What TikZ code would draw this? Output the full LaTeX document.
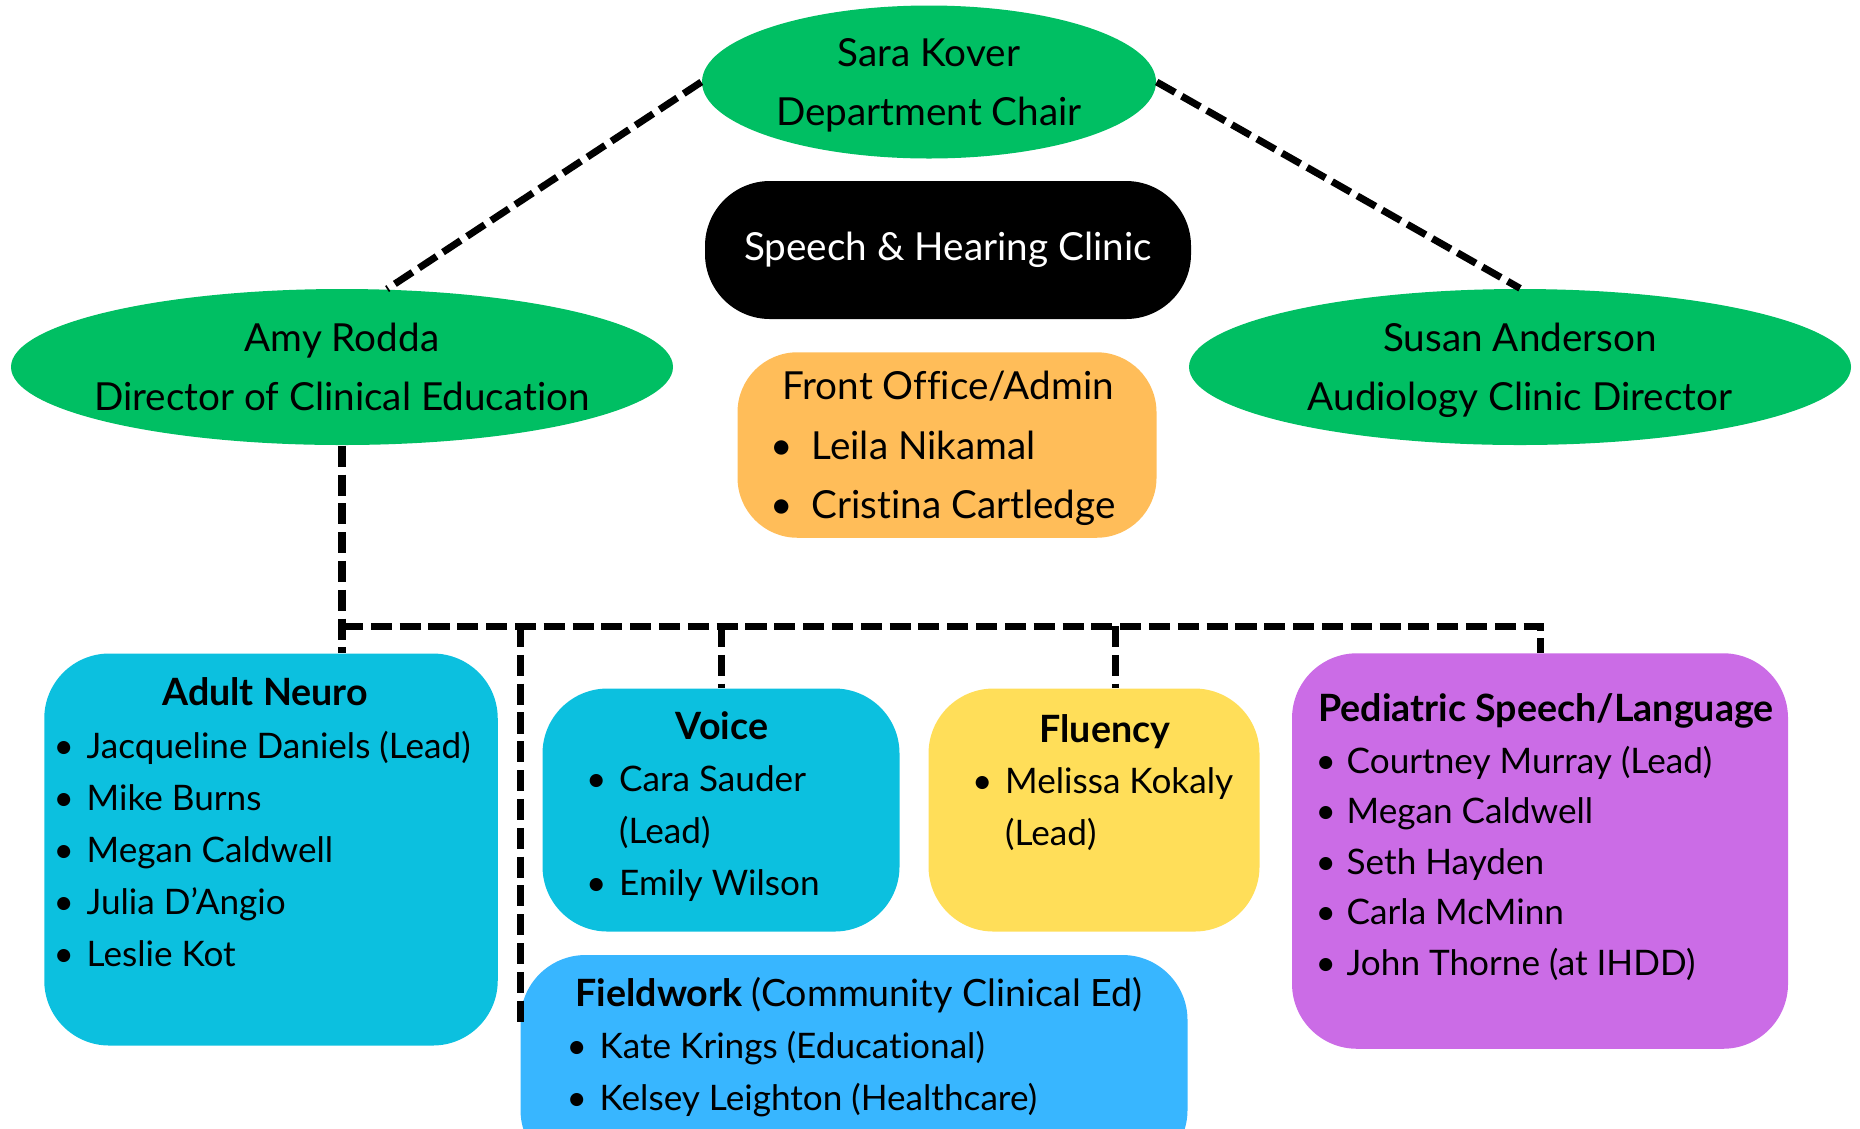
\documentclass[tikz,border=0pt]{standalone}
\usepackage{fontspec}
\setmainfont{Lato}[Ligatures=NoCommon]
\usetikzlibrary{shapes.geometric}
\definecolor{chairgreen}{HTML}{00BF63}
\definecolor{officeorange}{HTML}{FFBD59}
\definecolor{neurocyan}{HTML}{0CC0DF}
\definecolor{fluencyyellow}{HTML}{FFDE59}
\definecolor{pedpurple}{HTML}{CB6CE6}
\definecolor{fieldblue}{HTML}{38B6FF}
\newcommand{\bigtext}{\fontsize{11}{16.8}\selectfont}
\newcommand{\listtext}{\fontsize{10}{14.8}\selectfont}
\newcommand{\headtext}{\fontsize{10.7}{14.8}\selectfont\bfseries}
\newcommand{\members}[2]{\begin{tabular}[t]{@{}p{#1}@{}l@{}}#2\end{tabular}}
\newcommand{\who}{\textbullet &}
\tikzset{
	leader/.style = { ellipse, fill=chairgreen, inner sep=0pt },
	title/.style = { align=center, inner sep=0pt, font=\bigtext, yshift=-0.025cm },
	panel/.style = { rounded corners=0.65cm, inner sep=0pt },
	heading/.style = { anchor=base, inner sep=0pt, font=\headtext },
	roster/.style = { anchor=base west, inner sep=0pt, font=\listtext },
	link/.style = { line width=2pt, dash pattern=on 6pt off 2.2pt }
}

\begin{document}
\begin{tikzpicture}
	\useasboundingbox (0,0) rectangle (18.6,-11.28);
	\clip (0,0) rectangle (18.6,-11.28);
	% leaders
	\node [ leader, minimum width=4.54cm, minimum height=1.53cm ] (1) at (9.29,-0.82) {};
	\node [ title ] (1a) at (1) { Sara Kover\strut\\Department Chair\strut };
	\node [ leader, minimum width=6.62cm, minimum height=1.56cm ] (4) at (3.42,-3.67) {};
	\node [ title ] (4a) at (4) { Amy Rodda\strut\\Director of Clinical Education\strut };
	\node [ leader, minimum width=6.62cm, minimum height=1.56cm ] (5) at (15.20,-3.67) {};
	\node [ title ] (5a) at (5) { Susan Anderson\strut\\Audiology Clinic Director\strut };
	% clinic and office
	\node [ panel, fill=black, text=white, font=\bigtext,
		minimum width=4.86cm, minimum height=1.38cm ] (2) at (9.48,-2.50)
		{ Speech \& Hearing Clinic };
	\node [ panel, rounded corners=0.6cm, fill=officeorange,
		minimum width=4.19cm, minimum height=1.855cm ] (3) at (9.47,-4.45) {};
	\node [ anchor=base, inner sep=0pt, font=\bigtext ] (3a) at (9.48,-3.99)
		{ Front Office/Admin };
	\node [ roster, font=\bigtext ] (3b) at (7.70,-4.59)
		{ \members{0.41cm}{ \who Leila Nikamal \\ \who Cristina Cartledge } };
	% teams
	\node [ panel, fill=neurocyan, minimum width=4.535cm, minimum height=3.92cm ] (6) at (2.71,-8.495) {};
	\node [ panel, fill=neurocyan, minimum width=3.57cm, minimum height=2.43cm ] (7) at (7.21,-8.10) {};
	\node [ panel, fill=fluencyyellow, minimum width=3.31cm, minimum height=2.43cm ] (8) at (10.94,-8.10) {};
	\node [ panel, fill=pedpurple, minimum width=4.96cm, minimum height=3.955cm ] (9) at (15.40,-8.51) {};
	\node [ panel, fill=fieldblue, minimum width=6.67cm, minimum height=2.2cm ] (10) at (8.54,-10.65) {};
	\node [ heading ] (6a) at (2.65,-7.05) { Adult Neuro };
	\node [ roster ] (6b) at (0.53,-7.58)
		{ \members{0.33cm}{ \who Jacqueline Daniels (Lead) \\ \who Mike Burns \\
		\who Megan Caldwell \\ \who Julia D’Angio \\ \who Leslie Kot } };
	\node [ heading ] (7a) at (7.22,-7.39) { Voice };
	\node [ roster ] (7b) at (5.855,-7.91)
		{ \members{0.33cm}{ \who Cara Sauder \\ & (Lead) \\ \who Emily Wilson } };
	\node [ heading ] (8a) at (11.05,-7.42) { Fluency };
	\node [ roster ] (8b) at (9.715,-7.93)
		{ \members{0.33cm}{ \who Melissa Kokaly \\ & (Lead) } };
	\node [ heading ] (9a) at (15.46,-7.21) { Pediatric Speech/Language };
	\node [ roster, font=\fontsize{10}{14.4}\selectfont ] (9b) at (13.15,-7.73)
		{ \members{0.31cm}{ \who Courtney Murray (Lead) \\ \who Megan Caldwell \\
		\who Seth Hayden \\ \who Carla McMinn \\ \who John Thorne (at IHDD) } };
	\node [ heading ] (10a) at (8.59,-10.06) { Fieldwork \mdseries (Community Clinical Ed) };
	\node [ roster ] (10b) at (5.66,-10.58)
		{ \members{0.33cm}{ \who Kate Krings (Educational) \\ \who Kelsey Leighton (Healthcare) } };
	% dashed links
	\coordinate (bus) at (3.42,-6.26);
	\coordinate (fieldend) at (5.207,-10.22);
	\draw [ link ] (1.west) -- (4.60);
	\draw [ link ] (1.east) -- (5.north);
	\draw [ link ] (4.south) -- (4.south |- 6.north);
	\draw [ link ] (bus) -| (9.north);
	\draw [ link ] (bus -| 7.north) -- (7.north);
	\draw [ link ] ([xshift=0.21cm]8.north |- bus) -- ([xshift=0.21cm]8.north);
	\draw [ link ] (bus -| fieldend) -- (fieldend);
\end{tikzpicture}
\end{document}
